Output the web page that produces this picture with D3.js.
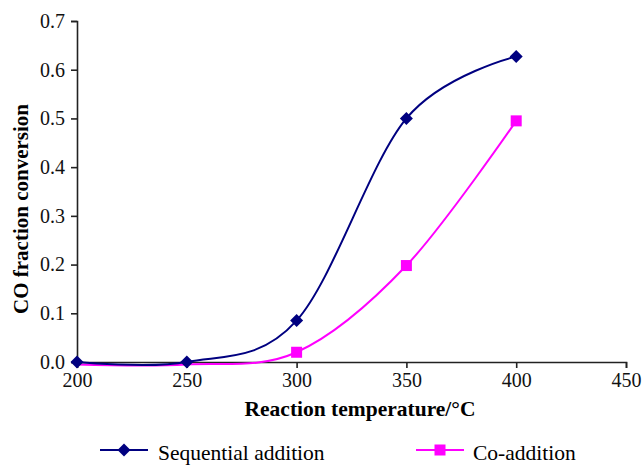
<!DOCTYPE html>
<html><head><meta charset="utf-8">
<script src="https://cdn.jsdelivr.net/npm/d3@7"></script>
<style>body{margin:0;background:#fff}svg{display:block}text{font-family:"Liberation Serif","Times New Roman",serif}</style>
</head><body><svg id="c" width="644" height="466"></svg>
<script>
const temperatures = [200, 250, 300, 350, 400];
const sequentialValues = [0.0, 0.0, 0.085, 0.5, 0.627];
const coAdditionValues = [-0.005, -0.005, 0.02, 0.198, 0.495];
const coAdditionMarked = [false, false, true, true, true];
const xTicks = [200, 250, 300, 350, 400, 450];
const yTicks = [0, 0.1, 0.2, 0.3, 0.4, 0.5, 0.6, 0.7];
const seriesNames = ["Sequential addition", "Co-addition"];

const svg = d3.select("#c");
const x = d3.scaleLinear().domain([200, 450]).range([77, 626]);
const y = d3.scaleLinear().domain([0, 0.7]).range([362, 21]);
const blue = "#000080", pink = "#ff00ff";

const xAxis = svg.append("g").attr("transform", `translate(0,${y(0)})`)
  .call(d3.axisBottom(x).tickValues(xTicks).tickSize(6).tickPadding(5).tickFormat(d3.format("d")));
const yAxis = svg.append("g").attr("transform", `translate(${x(200)},0)`)
  .call(d3.axisLeft(y).tickValues(yTicks).tickSize(6).tickPadding(6).tickFormat(d3.format(".1f")));
[xAxis, yAxis].forEach(a => {
  a.selectAll("path").attr("stroke", "#222").attr("stroke-width", 1.6);
  a.selectAll("line").attr("stroke", "#222").attr("stroke-width", 1.6);
  a.selectAll("text").attr("font-size", 20).attr("fill", "#111");
});

const line = d3.line().x(d => x(d[0])).y(d => y(d[1])).curve(d3.curveCardinal.tension(0));
const seq = temperatures.map((t, i) => [t, sequentialValues[i]]);
const co = temperatures.map((t, i) => [t, coAdditionValues[i]]);

svg.append("path").datum(co).attr("d", line).attr("fill", "none").attr("stroke", pink).attr("stroke-width", 2);
svg.append("path").datum(seq).attr("d", line).attr("fill", "none").attr("stroke", blue).attr("stroke-width", 2);

const sq = 11, dm = 13;
svg.selectAll(".sq").data(co.filter((d, i) => coAdditionMarked[i])).enter().append("rect")
  .attr("x", d => x(d[0]) - sq / 2).attr("y", d => y(d[1]) - sq / 2)
  .attr("width", sq).attr("height", sq).attr("fill", pink);
const diamond = (cx, cy) => `M${cx},${cy - dm / 2}L${cx + dm / 2},${cy}L${cx},${cy + dm / 2}L${cx - dm / 2},${cy}Z`;
svg.selectAll(".dm").data(seq).enter().append("path")
  .attr("d", d => diamond(x(d[0]), y(d[1]))).attr("fill", blue);

svg.append("text").attr("x", 360).attr("y", 416).attr("text-anchor", "middle")
  .attr("font-weight", "bold").attr("font-size", 21.5).text("Reaction temperature/°C");
svg.append("text").attr("transform", "translate(28,209) rotate(-90)").attr("text-anchor", "middle")
  .attr("font-weight", "bold").attr("font-size", 21).text("CO fraction conversion");

// legend
const lg = svg.append("g");
lg.append("line").attr("x1", 100).attr("x2", 148).attr("y1", 450).attr("y2", 450).attr("stroke", blue).attr("stroke-width", 2);
lg.append("path").attr("d", diamond(124, 450)).attr("fill", blue);
lg.append("text").attr("x", 158).attr("y", 460).attr("font-size", 21.5).text(seriesNames[0]);
lg.append("line").attr("x1", 416).attr("x2", 464).attr("y1", 450).attr("y2", 450).attr("stroke", pink).attr("stroke-width", 2);
lg.append("rect").attr("x", 440 - sq / 2).attr("y", 450 - sq / 2).attr("width", sq).attr("height", sq).attr("fill", pink);
lg.append("text").attr("x", 473).attr("y", 460).attr("font-size", 21.5).text(seriesNames[1]);
</script></body></html>
